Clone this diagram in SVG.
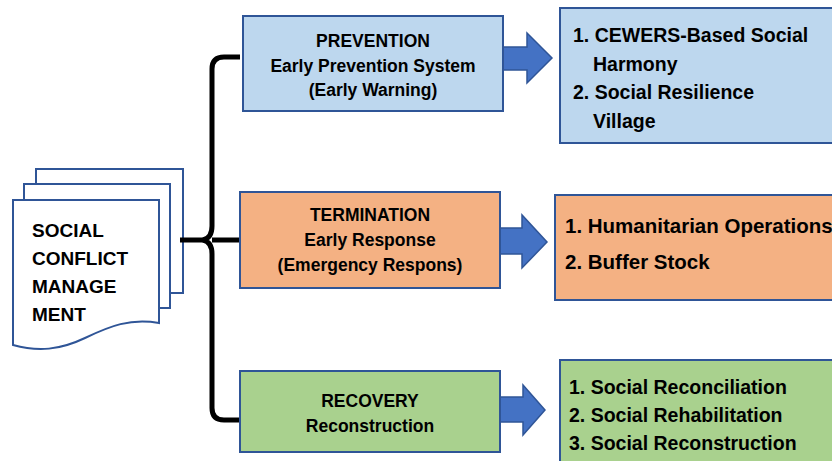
<svg xmlns="http://www.w3.org/2000/svg" width="832" height="461" viewBox="0 0 832 461">
<style>
text{font-family:"Liberation Sans",Arial,sans-serif;font-weight:bold;fill:#000}
.mid{font-size:17.5px;text-anchor:middle}
.rt{font-size:19.5px}
.doc{font-size:19px}
.box{stroke:#2F5597;stroke-width:2}
.blue{fill:#BDD7EE}.orange{fill:#F4B183}.green{fill:#A9D18E}
.page{fill:#fff;stroke:#2F5597;stroke-width:2}
.arr{fill:#4472C4;stroke:#2F5597;stroke-width:1.5}
.brace{fill:none;stroke:#000;stroke-width:5;stroke-linecap:butt}
</style>
<g id="doc">
<rect class="page" x="36" y="169" width="147" height="124"/>
<rect class="page" x="24" y="184" width="146" height="124"/>
<path class="page" d="M13,200 H159 V323 C130,318 110,326 85,338 C60,350 38,352 13,345 Z"/>
<text class="doc" x="32" y="237">SOCIAL</text>
<text class="doc" x="32" y="265">CONFLICT</text>
<text class="doc" x="32" y="293">MANAGE</text>
<text class="doc" x="32" y="321">MENT</text>
</g>
<g id="connectors">
<path class="brace" d="M240,57 H224 Q212,57 212,69 V226 Q212,238 203,240 Q212,242 212,254 V408 Q212,420 224,420 H240"/>
<path class="brace" d="M180,240 H205 M212,240 H240"/>
<path class="arr" d="M503,47 H527 V33 L552,58 L527,83 V70 H503 Z"/>
<path class="arr" d="M500,228 H522 V215 L547,242 L522,268 V254 H500 Z"/>
<path class="arr" d="M500,397 H523 V385 L545,410 L523,435 V422 H500 Z"/>
</g>
<g id="prevention">
<rect class="box blue" x="243" y="16" width="260" height="95"/>
<text class="mid" x="373" y="47">PREVENTION</text>
<text class="mid" x="373" y="72">Early Prevention System</text>
<text class="mid" x="373" y="96">(Early Warning)</text>
</g>
<g id="termination">
<rect class="box orange" x="240" y="192" width="260" height="96"/>
<text class="mid" x="370" y="221">TERMINATION</text>
<text class="mid" x="370" y="246">Early Response</text>
<text class="mid" x="370" y="271">(Emergency Respons)</text>
</g>
<g id="recovery">
<rect class="box green" x="240" y="371" width="260" height="81"/>
<text class="mid" x="370" y="407">RECOVERY</text>
<text class="mid" x="370" y="432">Reconstruction</text>
</g>
<g id="prevention-items">
<rect class="box blue" x="560" y="8" width="290" height="135"/>
<text class="rt" x="573" y="42">1. CEWERS-Based Social</text>
<text class="rt" x="593" y="71">Harmony</text>
<text class="rt" x="573" y="99">2. Social Resilience</text>
<text class="rt" x="593" y="128">Village</text>
</g>
<g id="termination-items">
<rect class="box orange" x="555" y="195" width="295" height="105"/>
<text class="rt" x="565" y="233" style="font-size:20.5px">1. Humanitarian Operations</text>
<text class="rt" x="565" y="269" style="font-size:20.5px">2. Buffer Stock</text>
</g>
<g id="recovery-items">
<rect class="box green" x="560" y="360" width="290" height="110"/>
<text class="rt" x="569" y="394">1. Social Reconciliation</text>
<text class="rt" x="569" y="422">2. Social Rehabilitation</text>
<text class="rt" x="569" y="450">3. Social Reconstruction</text>
</g>
</svg>
